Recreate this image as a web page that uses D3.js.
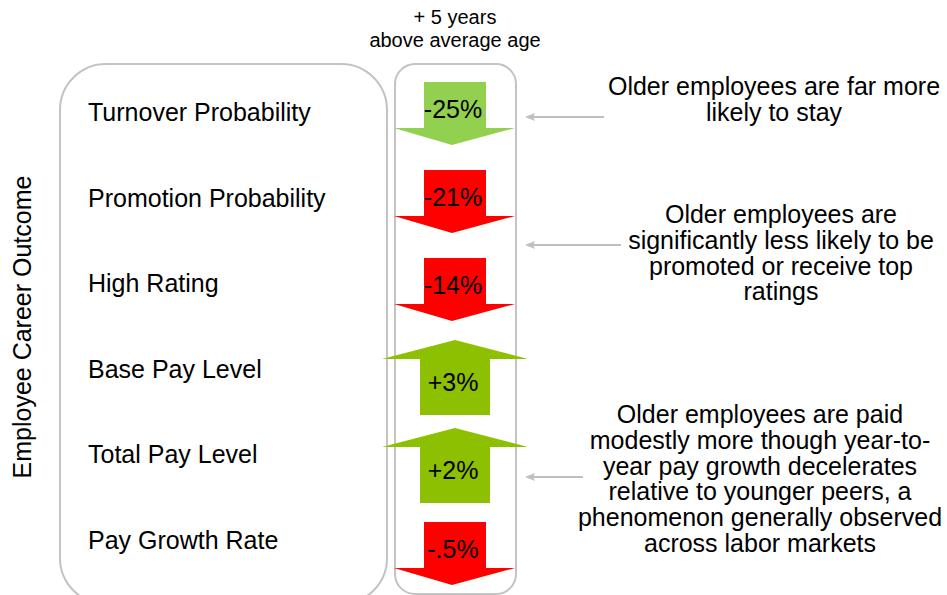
<!DOCTYPE html>
<html lang="en">
<head>
    <meta charset="UTF-8">
    <script src="https://d3js.org/d3.v7.min.js"></script>
    <title>Older employees career outcomes</title>
    <style>
        body { margin: 0; background: #fff; }
        svg { font-family: "Liberation Sans", Arial, sans-serif; }
        .frame { fill: none; stroke: #c3c3c3; stroke-width: 2px; }
        .callout { stroke: #bfbfbf; stroke-width: 2px; }
    </style>
</head>
<body>
    <svg id="chart" width="947" height="595">
        <g class="frames"></g>
        <g class="labels"></g>
        <g class="arrows"></g>
        <g class="notes"></g>
    </svg>

    <script>
    // data
    var outcomes = ["Turnover Probability", "Promotion Probability", "High Rating",
                    "Base Pay Level", "Total Pay Level", "Pay Growth Rate"];
    var effects = [-25, -21, -14, 3, 2, -0.5];
    var effectLabels = ["-25%", "-21%", "-14%", "+3%", "+2%", "-.5%"];

    var notes = [
        ["Older employees are far more", "likely to stay"],
        ["Older employees are", "significantly less likely to be", "promoted or receive top", "ratings"],
        ["Older employees are paid", "modestly more though year-to-", "year pay growth decelerates",
         "relative to younger peers, a", "phenomenon generally observed", "across labor markets"]
    ];

    var svg = d3.select("#chart");

    // scales
    var yArrow = d3.scalePoint().domain(outcomes).range([113, 553]);
    var yLabel = d3.scalePoint().domain(outcomes).range([112, 540]);
    var cx = 455;

    // frames
    d3.select("g.frames").append("rect").attr("class", "frame")
        .attr("x", 60).attr("y", 64).attr("width", 327).attr("height", 540)
        .attr("rx", 46).attr("ry", 46);
    d3.select("g.frames").append("rect").attr("class", "frame")
        .attr("x", 395).attr("y", 64).attr("width", 121).attr("height", 530)
        .attr("rx", 20).attr("ry", 20);

    // header
    svg.append("text").attr("x", cx).attr("y", 24).attr("text-anchor", "middle")
        .style("font-size", "20px").text("+ 5 years");
    svg.append("text").attr("x", cx).attr("y", 47).attr("text-anchor", "middle")
        .style("font-size", "20px").text("above average age");

    // y title
    svg.append("text")
        .attr("transform", "translate(31,327) rotate(-90)")
        .attr("text-anchor", "middle")
        .style("font-size", "25px")
        .text("Employee Career Outcome");

    // outcome labels
    d3.select("g.labels").selectAll("text")
        .data(outcomes)
        .join("text")
        .attr("x", 88)
        .attr("y", d => yLabel(d) + 9)
        .style("font-size", "25px")
        .text(d => d);

    // block arrows
    function arrowPath(v) {
        if (v < 0) {
            // down: shaft on top, head below
            return "M-31,-31 L31,-31 L31,15 L60,15 L-3,32 L-61,15 L-31,15 Z";
        }
        return "M0,-37 L73,-18 L35,-18 L35,38 L-35,38 L-35,-18 L-73,-18 Z";
    }
    function arrowColor(v, i) {
        if (v >= 0) return "#8cc000";
        return i === 0 ? "#92d050" : "#ff0000";
    }

    var arrows = d3.select("g.arrows").selectAll("g")
        .data(outcomes)
        .join("g")
        .attr("transform", d => "translate(" + cx + "," + yArrow(d) + ")");

    arrows.append("path")
        .attr("d", (d, i) => arrowPath(effects[i]))
        .attr("fill", (d, i) => arrowColor(effects[i], i));

    arrows.append("text")
        .attr("x", -2)
        .attr("y", (d, i) => effects[i] < 0 ? 5 : 14)
        .attr("text-anchor", "middle")
        .style("font-size", "25px")
        .text((d, i) => effectLabels[i]);

    // annotations
    var noteX = [774, 781, 760];
    var noteTop = [95, 223, 423];
    var noteStart = [604, 621, 583];
    var noteY = [117, 245, 477];

    notes.forEach(function(lines, k) {
        var t = d3.select("g.notes").append("text")
            .attr("text-anchor", "middle")
            .style("font-size", "25px");
        t.selectAll("tspan")
            .data(lines)
            .join("tspan")
            .attr("x", noteX[k])
            .attr("y", (d, i) => noteTop[k] + i * 25.8)
            .text(d => d);

        d3.select("g.notes").append("line")
            .attr("class", "callout")
            .attr("x1", noteStart[k])
            .attr("x2", 532)
            .attr("y1", noteY[k])
            .attr("y2", noteY[k]);
        d3.select("g.notes").append("path")
            .attr("d", "M525," + noteY[k] + " L535," + (noteY[k] - 4) + " L533," + noteY[k] +
                " L535," + (noteY[k] + 4) + " Z")
            .attr("fill", "#bfbfbf");
    });
    </script>
</body>
</html>
